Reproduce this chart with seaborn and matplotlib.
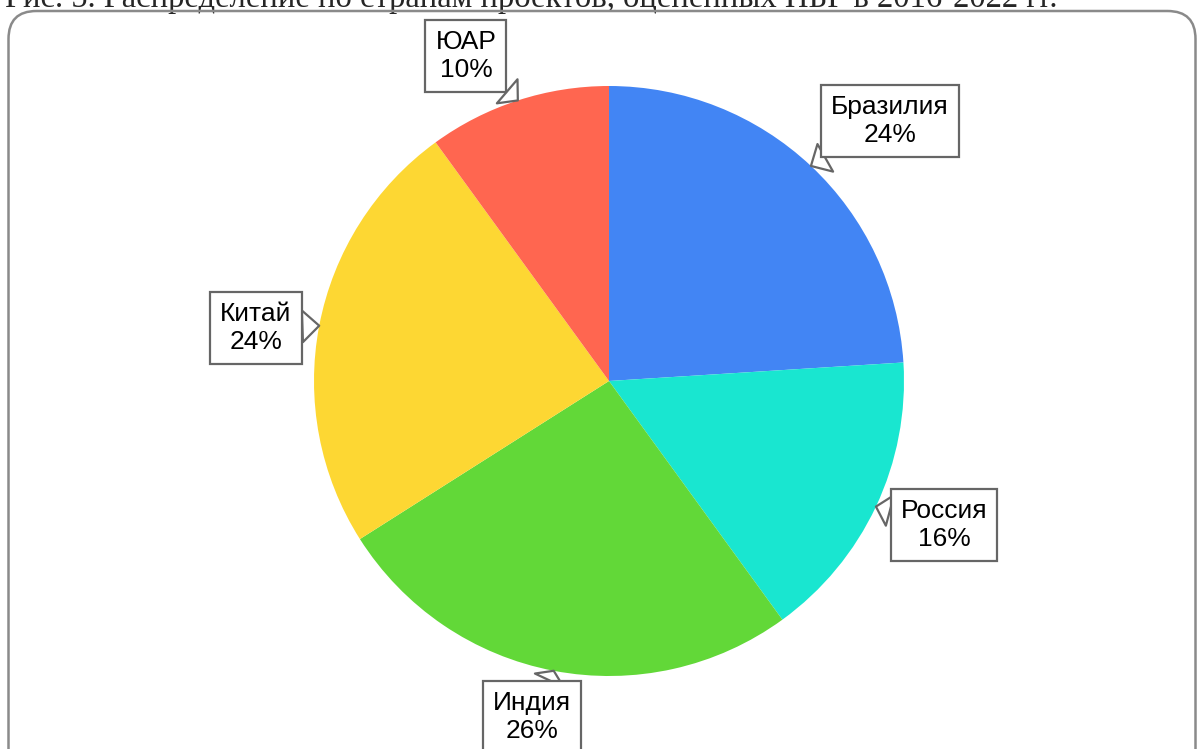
import numpy as np
import matplotlib
matplotlib.use("Agg")
import matplotlib.pyplot as plt
from matplotlib.patches import FancyBboxPatch
import seaborn as sns

countries = ["Бразилия", "Россия", "Индия", "Китай", "ЮАР"]
shares = [24, 16, 26, 24, 10]
colors = ["#4285F4", "#19E6D0", "#62D838", "#FDD733", "#FF6650"]
title = "Рис. 5. Распределение по странам проектов, оцененных НБР в 2016-2022 гг."

# label box centres, in pie radii relative to the centre (layout only)
label_pos = [(0.953, 0.881), (1.136, -0.488), (-0.261, -1.139), (-1.197, 0.180), (-0.485, 1.102)]

sns.set_style("white")
plt.rcParams["font.family"] = ["Liberation Sans", "DejaVu Sans"]

W, H = 1198, 749
cx, cy, R = 609, 381, 295
fig = plt.figure(figsize=(W / 100, H / 100), dpi=100)
ax = fig.add_axes([0, 0, 1, 1])

# frame round the chart
frame = FancyBboxPatch((0.085, -0.5), 11.87, 7.88, boxstyle="round,pad=0,rounding_size=0.28",
                       transform=fig.dpi_scale_trans, fc="none", ec="#8a8a8a", lw=1.8, zorder=10)
fig.patches.append(frame)

wedges, _ = ax.pie(shares, colors=colors, startangle=90, counterclock=False, radius=1,
                   wedgeprops=dict(linewidth=0))
ax.set_xlim(-cx / R, (W - cx) / R)
ax.set_ylim(-(H - cy) / R, cy / R)
ax.axis("off")

for w, name, val, (lx, ly) in zip(wedges, countries, shares, label_pos):
    ang = np.deg2rad((w.theta1 + w.theta2) / 2)
    tip = (np.cos(ang), np.sin(ang))
    ax.annotate(f"{name}\n{val}%", xy=tip, xytext=(lx, ly), ha="center", va="center",
                fontsize=19, linespacing=1.2, color="black", zorder=5,
                bbox=dict(boxstyle="square,pad=0.38", fc="white", ec="#666666", lw=1.6),
                arrowprops=dict(arrowstyle="wedge,tail_width=1.2", fc="white", ec="#666666",
                                lw=1.6, shrinkA=0, shrinkB=0))

fig.text(0.004, 1 - 7 / H, title, fontsize=23.5, family=["Liberation Serif", "DejaVu Serif"],
         ha="left", va="baseline")

fig.savefig("out.png", dpi=100)
